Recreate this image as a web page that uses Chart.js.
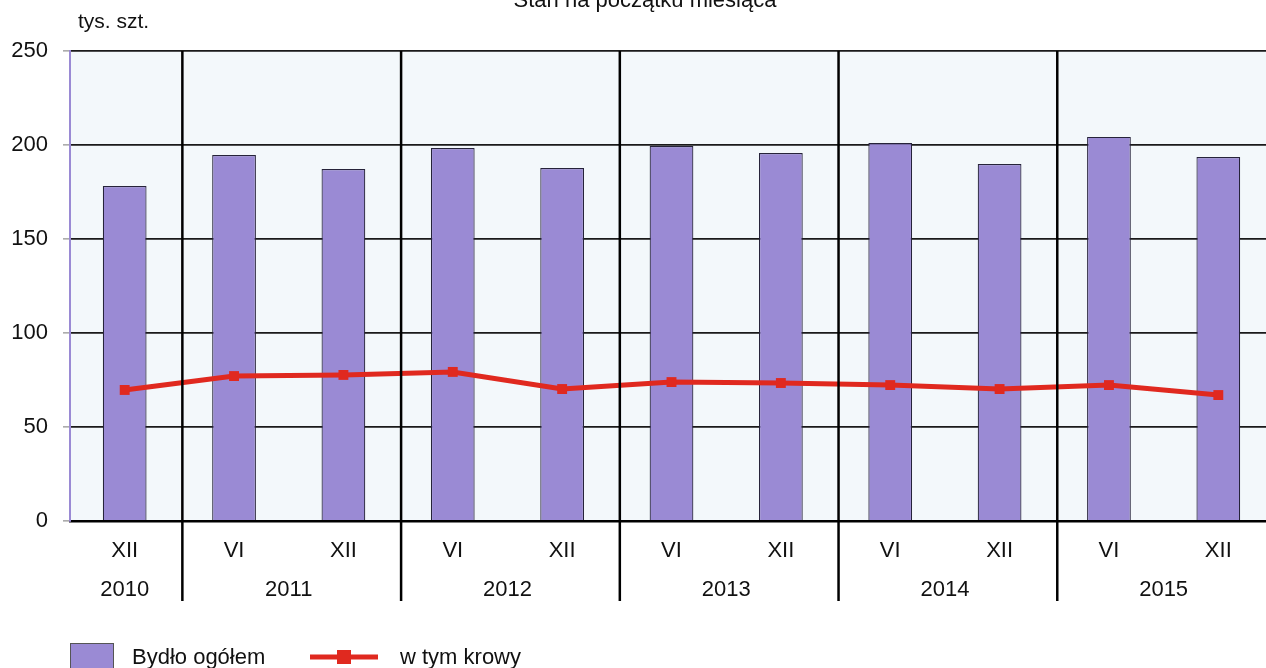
<!DOCTYPE html>
<html>
<head>
<meta charset="utf-8">
<script src="https://cdn.jsdelivr.net/npm/chart.js@4/dist/chart.umd.min.js"></script>
<style>
  html, body { margin: 0; padding: 0; background: #fff; overflow: hidden; }
  #wrap { position: relative; width: 1280px; height: 668px; }
</style>
</head>
<body>
<div id="wrap"><canvas id="cattleChart" width="1280" height="668"></canvas></div>
<script>
// dane - stan bydła (tys. szt.)
const months = ['XII', 'VI', 'XII', 'VI', 'XII', 'VI', 'XII', 'VI', 'XII', 'VI', 'XII'];
const years = ['2010', '2011', '2011', '2012', '2012', '2013', '2013', '2014', '2014', '2015', '2015'];
const bydloOgolem = [178.2, 194.7, 187.2, 198.4, 187.8, 199.5, 195.7, 201.0, 189.9, 204.3, 193.6];
const krowy = [69.7, 77.1, 77.7, 79.3, 70.2, 73.9, 73.4, 72.3, 70.2, 72.3, 67.0];
const yTicks = [0, 50, 100, 150, 200, 250];

const FONT = '"Liberation Sans", Arial, sans-serif';
const PURPLE = '#9a8ad4';
const RED = '#e0291f';

// tło obszaru wykresu
const plotBg = {
    id: 'plotBg',
    beforeDraw(chart) {
        const { ctx, chartArea: a } = chart;
        ctx.save();
        ctx.fillStyle = '#f3f8fb';
        ctx.fillRect(a.left, a.top, a.right - a.left, a.bottom - a.top);
        ctx.restore();
    }
};

// separatory lat, podpisy lat, tytuł, legenda
const extras = {
    id: 'extras',
    afterDraw(chart) {
        const { ctx, chartArea: a } = chart;
        const x = chart.scales.x;
        ctx.save();
        // linie między latami
        ctx.strokeStyle = '#000';
        ctx.lineWidth = 2.5;
        for (let i = 1; i < years.length; i++) {
            if (years[i] !== years[i - 1]) {
                const px = (x.getPixelForValue(i - 1) + x.getPixelForValue(i)) / 2 + 3;
                ctx.beginPath();
                ctx.moveTo(px, a.top);
                ctx.lineTo(px, 601);
                ctx.stroke();
            }
        }
        // podpisy lat
        ctx.fillStyle = '#111';
        ctx.font = '22px ' + FONT;
        ctx.textAlign = 'center';
        ctx.textBaseline = 'middle';
        let start = 0;
        for (let i = 1; i <= years.length; i++) {
            if (i === years.length || years[i] !== years[start]) {
                const cx = (x.getPixelForValue(start) + x.getPixelForValue(i - 1)) / 2;
                ctx.fillText(years[start], cx, 590);
                start = i;
            }
        }
        // tytuł (ucięty u góry)
        ctx.textBaseline = 'alphabetic';
        ctx.fillText('Stan na początku miesiąca', 645, 7);
        // jednostka
        ctx.textAlign = 'left';
        ctx.font = '21px ' + FONT;
        ctx.fillText('tys. szt.', 78, 28);
        // legenda
        ctx.fillStyle = PURPLE;
        ctx.fillRect(70, 643, 43, 32);
        ctx.strokeStyle = '#555';
        ctx.lineWidth = 1;
        ctx.strokeRect(70.5, 643.5, 43, 32);
        ctx.fillStyle = '#111';
        ctx.font = '22px ' + FONT;
        ctx.textBaseline = 'middle';
        ctx.fillText('Bydło ogółem', 132, 658);
        ctx.strokeStyle = RED;
        ctx.lineWidth = 5;
        ctx.beginPath();
        ctx.moveTo(310, 657);
        ctx.lineTo(378, 657);
        ctx.stroke();
        ctx.fillStyle = RED;
        ctx.fillRect(337, 650, 14, 14);
        ctx.fillStyle = '#111';
        ctx.fillText('w tym krowy', 400, 658);
        ctx.restore();
    }
};

new Chart(document.getElementById('cattleChart'), {
    type: 'bar',
    data: {
        labels: months,
        datasets: [{
            type: 'line',
            label: 'w tym krowy',
            data: krowy,
            borderColor: RED,
            backgroundColor: RED,
            borderWidth: 5,
            pointStyle: 'rect',
            pointRadius: 7,
            pointBorderWidth: 0,
            tension: 0,
            order: 1
        }, {
            label: 'Bydło ogółem',
            data: bydloOgolem,
            backgroundColor: PURPLE,
            borderColor: '#26233a',
            borderWidth: 1.2,
            barPercentage: 0.4,
            categoryPercentage: 1,
            order: 2
        }]
    },
    options: {
        responsive: false,
        animation: false,
        devicePixelRatio: 1,
        layout: { padding: { top: 51, right: 7, left: 0, bottom: 0 } },
        plugins: {
            legend: { display: false },
            tooltip: { enabled: false }
        },
        scales: {
            x: {
                offset: true,
                grid: { display: false },
                border: { color: '#000', width: 2.5 },
                ticks: { color: '#111', font: { family: FONT, size: 22 }, padding: 9, maxRotation: 0, autoSkip: false },
                afterFit(scale) { scale.height = 147; }
            },
            y: {
                min: 0,
                max: 250,
                afterBuildTicks(scale) { scale.ticks = yTicks.map(v => ({ value: v })); },
                grid: { color: '#1a1a1a', lineWidth: 1.8, tickLength: 7, tickColor: '#777', tickWidth: 1 },
                border: { color: PURPLE, width: 2 },
                ticks: { color: '#111', font: { family: FONT, size: 22 }, padding: 15 },
                afterFit(scale) { scale.width = 70; }
            }
        }
    },
    plugins: [plotBg, extras]
});
</script>
</body>
</html>
